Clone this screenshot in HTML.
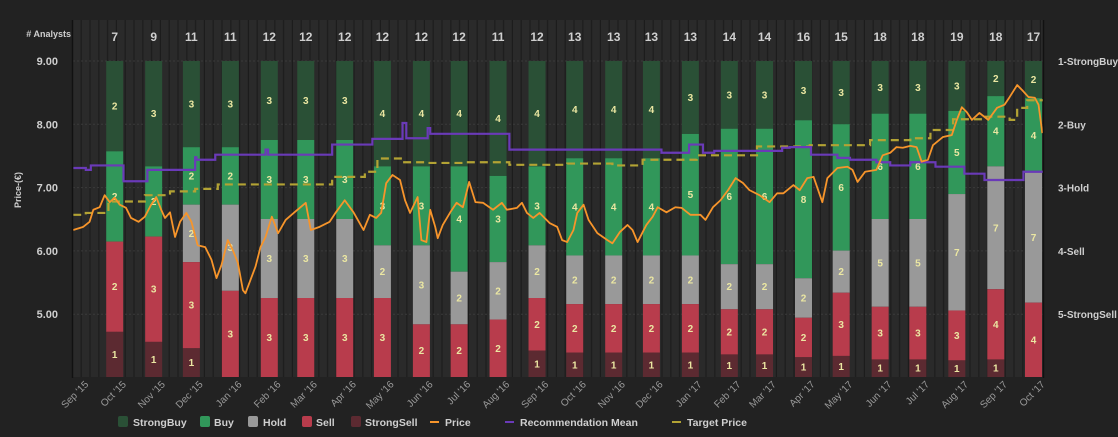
<!DOCTYPE html>
<html><head><meta charset="utf-8"><style>
html,body{margin:0;padding:0;background:#222;}
svg{display:block;font-family:"Liberation Sans",sans-serif;}
</style></head><body>
<svg id="chart" width="1118" height="437" viewBox="0 0 1118 437" xmlns="http://www.w3.org/2000/svg">
<defs>
<pattern id="stripes" patternUnits="userSpaceOnUse" width="8.8" height="10" x="73">
<rect width="8.8" height="10" fill="#2a2a2a"/>
<rect x="7.6" width="1.2" height="10" fill="#1c1c1c"/>
</pattern>
</defs>
<rect width="1118" height="437" fill="#222"/>
<rect x="73" y="20" width="970" height="357" fill="url(#stripes)"/>
<g id="grid"></g>
<g id="bars"></g>
<g id="lines"></g>
<g id="axes"></g>
<g id="legend"></g>
</svg>
<script>
// ---- data ----
const months = ["Sep '15","Oct '15","Nov '15","Dec '15","Jan '16","Feb '16","Mar '16","Apr '16","May '16","Jun '16","Jul '16","Aug '16","Sep '16","Oct '16","Nov '16","Dec '16","Jan '17","Feb '17","Mar '17","Apr '17","May '17","Jun '17","Jul '17","Aug '17","Sep '17","Oct '17"];
const strongBuy  = [2,3,3,3,3,3,3,4,4,4,4,4,4,4,4,3,3,3,3,3,3,3,3,2,2];
const buy        = [2,2,2,2,3,3,3,3,3,4,3,3,4,4,4,5,6,6,8,6,6,6,5,4,4];
const hold       = [0,0,2,3,3,3,3,2,3,2,2,2,2,2,2,2,2,2,2,2,5,5,7,7,7];
const sell       = [2,3,3,3,3,3,3,3,2,2,2,2,2,2,2,2,2,2,2,3,3,3,3,4,4];
const strongSell = [1,1,1,0,0,0,0,0,0,0,0,1,1,1,1,1,1,1,1,1,1,1,1,1,0];
const priceTicks = [5,6,7,8,9];
const recLabels = ["1-StrongBuy","2-Buy","3-Hold","4-Sell","5-StrongSell"];
// days since 2015-09-01
const priceDays = [-3,5,10,13,18,22,26,30,34,39,43,49,54,59,63,67,70,74,78,82,87,91,96,102,107,111,115,120,124,128,132,134,142,146,150,155,160,166,173,182,186,193,201,206,213,220,228,233,238,242,246,251,257,261,265,271,274,278,281,285,287,291,297,302,307,312,317,323,331,338,342,350,354,358,363,368,376,382,386,390,395,398,403,407,414,422,426,432,438,442,446,453,458,462,469,476,481,488,496,500,506,512,518,524,530,535,543,551,557,562,570,575,581,586,593,597,605,613,617,621,627,636,641,647,652,657,663,668,672,677,681,689,696,700,704,708,712,718,725,732,738,742,748,752,757,762,765,768];
const priceValues = [6.33,6.38,6.46,6.65,6.69,6.88,6.77,6.84,6.73,6.68,6.52,6.46,6.54,6.73,6.85,6.65,6.52,6.61,6.22,6.46,6.60,6.46,6.09,6.06,5.86,5.57,5.78,6.17,6.01,5.81,5.38,5.33,5.75,6.06,6.22,6.54,6.28,6.49,6.61,6.76,6.33,6.38,6.46,6.61,6.80,6.61,6.33,6.57,6.52,6.60,7.07,7.20,7.12,6.80,6.60,6.85,6.17,6.14,6.65,6.38,6.20,6.41,6.61,6.76,6.69,7.09,6.77,6.76,6.65,6.76,6.65,6.68,6.76,6.60,6.52,6.60,6.44,6.38,6.17,6.14,6.33,6.60,6.73,6.49,6.28,6.17,6.12,6.30,6.41,6.33,6.14,6.41,6.54,6.69,6.61,6.69,6.68,6.57,6.57,6.49,6.69,6.80,6.96,7.15,7.07,6.96,6.88,6.77,6.91,6.91,7.04,6.96,7.15,7.17,6.77,7.15,7.31,7.33,7.28,7.09,7.25,7.28,7.51,7.55,7.64,7.63,7.66,7.64,7.41,7.44,7.67,7.80,7.83,8.07,8.27,8.19,8.07,8.18,8.07,8.26,8.31,8.43,8.62,8.54,8.43,8.42,8.31,7.86];
const recDays = [-3,7,11,37,56,94,95,110,150,152,203,235,259,262,279,281,344,465,487,498,507,561,567,584,605,615,636,647,663,683,706,722,753,769];
const recValues = [2.69,2.72,2.65,2.90,2.72,2.52,2.56,2.48,2.40,2.48,2.32,2.23,1.98,2.22,2.06,2.15,2.40,2.45,2.32,2.45,2.42,2.37,2.36,2.48,2.53,2.56,2.60,2.65,2.60,2.67,2.78,2.88,2.75,2.75];
const targetDays = [-3,7,25,54,74,94,112,203,229,239,259,278,310,344,390,426,450,493,541,583,631,663,679,697,721,742,748,756,769];
const targetValues = [6.57,6.60,6.78,6.88,6.94,6.98,7.05,7.17,7.25,7.46,7.40,7.39,7.40,7.36,7.38,7.35,7.44,7.51,7.65,7.67,7.75,7.78,7.91,8.08,8.12,8.07,8.26,8.38,8.38];

// ---- scales ----
const NS='http://www.w3.org/2000/svg';
const X0=77, PXDAY=1.2569, YTOP=61, PXU=63.3, YBOT=377;
const xDay=d=>X0+d*PXDAY;
const yPrice=p=>YTOP+(9-p)*PXU;
const yRec=r=>YTOP+(r-1)*PXU;
const base=Date.UTC(2015,8,1);
const monthDay=i=>(Date.UTC(2015,8+i,1)-base)/86400000;
function mk(tag,attrs,parent,text){const e=document.createElementNS(NS,tag);for(const k in attrs)e.setAttribute(k,attrs[k]);if(text!==undefined)e.textContent=text;parent.appendChild(e);return e;}
const G=id=>document.getElementById(id);

// grid
priceTicks.forEach(p=>{
  const l=mk('line',{x1:73,x2:1043,y1:yPrice(p),y2:yPrice(p),stroke:'#3a3a3a','stroke-dasharray':'2,2'},G('grid'));
  
  
});

// bars
const segColors=['#2a5036','#31975a','#999999','#b83c4c','#5c2a31'];
const segNames=['strongbuy','buy','hold','sell','strongsell'];
const series=[strongBuy,buy,hold,sell,strongSell];
strongBuy.forEach((_,i)=>{
  const cx=xDay(monthDay(i+1));
  const counts=series.map(s=>s[i]);
  const total=counts.reduce((a,b)=>a+b,0);
  let y=YTOP;
  counts.forEach((c,k)=>{
    if(!c)return;
    const h=c/total*(YBOT-YTOP);
    const r=mk('rect',{x:cx-8.5,y:y,width:17,height:h,fill:segColors[k]},G('bars'));
    
    
    const t=mk('text',{x:cx,y:y+h/2+3.5,'text-anchor':'middle','font-size':'10','font-weight':'bold',fill:'#ebe7a2'},G('bars'),String(c));
    
    
    y+=h;
  });
  const ct=mk('text',{x:cx,y:41,'text-anchor':'middle','font-size':'12','font-weight':'bold',fill:'#cfcfcf'},G('axes'),String(total));
  
  
});

// lines
function stepPath(days,vals,yf){let d='';days.forEach((dd,i)=>{const x=xDay(dd),y=yf(vals[i]);if(i===0)d+='M'+x+' '+y;else d+='H'+x+'V'+y;});return d;}
const tp=mk('path',{d:stepPath(targetDays,targetValues,yPrice),fill:'none',stroke:'#b3a334','stroke-width':2.2,'stroke-dasharray':'8,5'},G('lines'));


const rp=mk('path',{d:stepPath(recDays,recValues,yRec),fill:'none',stroke:'#6a3ab8','stroke-width':2.2},G('lines'));


const pp=mk('path',{d:priceDays.map((d,i)=>(i?'L':'M')+xDay(d)+' '+yPrice(priceValues[i])).join(''),fill:'none',stroke:'#f7952b','stroke-width':1.8,'stroke-linejoin':'round'},G('lines'));



// axes
const ax=G('axes');
const la=mk('line',{x1:72.5,x2:72.5,y1:20,y2:378,stroke:'#111','stroke-width':1.5},ax);


const ra=mk('line',{x1:1043.5,x2:1043.5,y1:20,y2:378,stroke:'#111','stroke-width':1.5},ax);


priceTicks.forEach(p=>{
  const t=mk('text',{x:58,y:yPrice(p)+4,'text-anchor':'end','font-size':'11','font-weight':'bold',fill:'#cfcfcf'},ax,p.toFixed(2));
  
  
});
recLabels.forEach((s,i)=>{
  const t=mk('text',{x:1058,y:yRec(i+1)+4,'font-size':'10','font-weight':'bold',fill:'#cfcfcf'},ax,s);
  
  
});
months.forEach((m,i)=>{
  const x=xDay(monthDay(i))+12, y=385;
  const t=mk('text',{x:x,y:y,'text-anchor':'end','font-size':'10',fill:'#9a9a9a',transform:'rotate(-45 '+x+' '+y+')'},ax,m);
  
  
});
const yt=mk('text',{x:21,y:190,'text-anchor':'middle','font-size':'9','font-weight':'bold',fill:'#cfcfcf',transform:'rotate(-90 21 190)'},ax,'Price-(€)');


const at=mk('text',{x:71,y:37,'text-anchor':'end','font-size':'9','font-weight':'bold',fill:'#cfcfcf'},ax,'# Analysts');



// legend
const lg=G('legend');
const legendItems=[
 {n:'StrongBuy',c:segColors[0],t:'box',x:118,tx:133},
 {n:'Buy',c:segColors[1],t:'box',x:200,tx:214},
 {n:'Hold',c:segColors[2],t:'box',x:248,tx:263},
 {n:'Sell',c:segColors[3],t:'box',x:302,tx:316},
 {n:'StrongSell',c:segColors[4],t:'box',x:351,tx:365},
 {n:'Price',c:'#f7952b',t:'line',x:430,tx:445},
 {n:'Recommendation Mean',c:'#6a3ab8',t:'line',x:505,tx:520},
 {n:'Target Price',c:'#b3a334',t:'line',x:672,tx:687}
];
legendItems.forEach(it=>{
  const g=mk('g',{},lg);
  
  
  if(it.t==='box') mk('rect',{x:it.x,y:416,width:10,height:11,rx:2,fill:it.c},g);
  else mk('rect',{x:it.x,y:421,width:9,height:2,fill:it.c},g);
  mk('text',{x:it.tx,y:426,'font-size':'10.5','font-weight':'bold',fill:'#cfcfcf'},g,it.n);
});
</script>
</body></html>
